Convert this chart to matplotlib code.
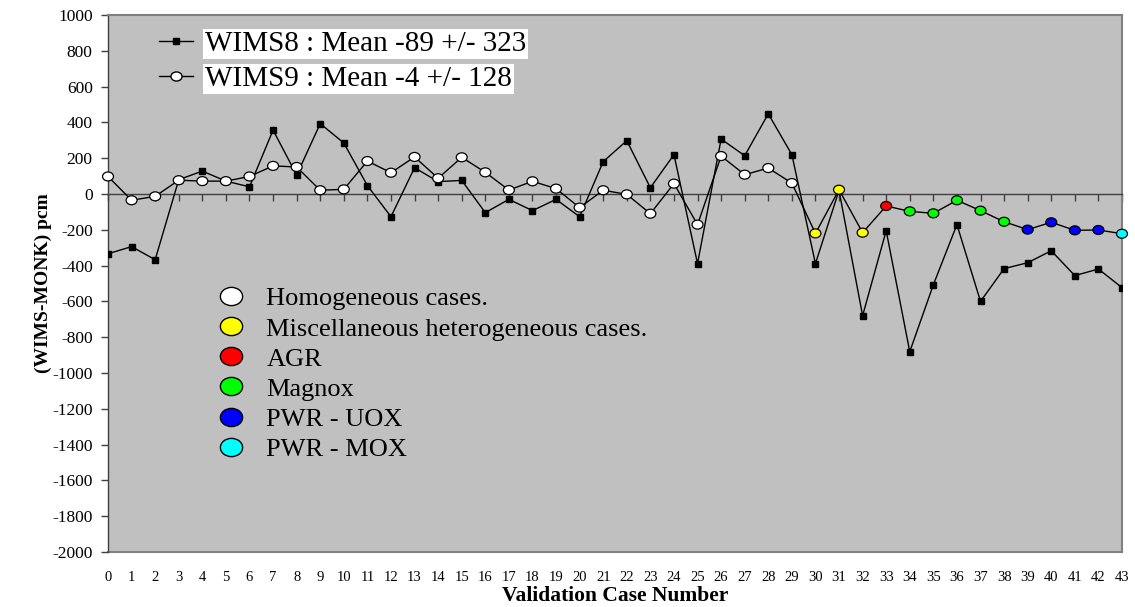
import matplotlib
matplotlib.use("Agg")
import matplotlib.pyplot as plt
from matplotlib.lines import Line2D
from matplotlib.path import Path
import matplotlib.transforms as mtransforms

plt.rcParams['font.family'] = ['Liberation Serif', 'DejaVu Serif']

cases = list(range(44))
wims8 = [-334, -294, -367, 80, 128, 72, 40, 357, 106, 393, 285, 47, -127, 147, 69, 76,
         -104, -30, -93, -30, -127, 181, 298, 35, 220, -389, 307, 214, 448, 220,
         -389, 20, -680, -205, -881, -507, -171, -600, -417, -384, -317, -456, -419, -523]
wims9 = [98, -35, -13, 77, 72, 72, 98, 157, 151, 21, 26, 184, 119, 207, 88, 205,
         121, 22, 71, 30, -76, 21, -2, -110, 58, -171, 212, 108, 145, 61,
         -220, 24, -216, -67, -97, -108, -35, -93, -155, -199, -158, -203, -201, -222]
# category index of each case (0 homogeneous ... 5 PWR-MOX)
wims9_category = [0]*30 + [1, 1, 1, 2, 3, 3, 3, 3, 3, 4, 4, 4, 4, 5]
category_labels = ["Homogeneous cases.", "Miscellaneous heterogeneous cases.", "AGR",
                   "Magnox", "PWR - UOX", "PWR - MOX"]
category_colors = ["#FFFFFF", "#FFFF00", "#FF0000", "#00FF00", "#0000FF", "#00FFFF"]
legend_labels = ["WIMS8 : Mean -89 +/- 323", "WIMS9 : Mean -4 +/- 128"]
yticks = list(range(-2000, 1001, 200))

ell = Path.unit_circle().transformed(mtransforms.Affine2D().scale(1.22, 1.0))

W, H = 1135, 607
fig = plt.figure(figsize=(W/100, H/100), dpi=100)
L, R, T, B = 108, 1122, 15, 552
ax = fig.add_axes([L/W, 1-B/H, (R-L)/W, (B-T)/H])
ax.set_facecolor('#C0C0C0')
ax.set_xlim(0, 43)
ax.set_ylim(-2000, 1000)

ax.plot(cases, wims8, color='black', lw=1.0, marker='s', markersize=4.3,
        markerfacecolor='black', markeredgecolor='black', zorder=3)
ax.plot(cases, wims9, color='black', lw=1.0, zorder=3)
ax.scatter(cases, wims9, marker=ell, s=62,
           c=[category_colors[k] for k in wims9_category],
           edgecolors='black', linewidths=0.9, zorder=4, clip_on=False)

# axes styling
ax.spines['bottom'].set_position(('data', 0))
ax.spines['bottom'].set_color('#404040')
ax.spines['bottom'].set_linewidth(1.0)
ax.spines['left'].set_color('#404040')
ax.spines['left'].set_linewidth(1.0)
for s in ('top', 'right'):
    ax.spines[s].set_color('#808080')
    ax.spines[s].set_linewidth(1.5)
ax.set_xticks(cases)
ax.tick_params(axis='x', direction='out', length=5, width=1, color='#404040',
               labelbottom=False)
ax.set_yticks(yticks)
ax.set_yticklabels([str(v) for v in yticks], fontsize=12.5)
ax.tick_params(axis='y', direction='out', length=5, width=1, color='#404040', pad=6)

sec = ax.secondary_xaxis('bottom')
sec.set_xticks(cases)
sec.set_xticklabels([str(c) for c in cases], fontsize=10.5)
sec.tick_params(length=0, pad=14)
sec.spines['bottom'].set_color('#808080')
sec.spines['bottom'].set_linewidth(1.5)
sec.set_xlabel('Validation Case Number', fontsize=15.5, fontweight='bold', labelpad=1)

ax.set_ylabel('(WIMS-MONK) pcm', fontsize=14, fontweight='bold', labelpad=0)

# series legend
h1 = Line2D([], [], color='black', lw=1.0, marker='s', markersize=4.3)
h2 = Line2D([], [], color='black', lw=1.0, marker=ell, markersize=8,
            markerfacecolor='white', markeredgecolor='black')
leg1 = ax.legend([h1, h2], legend_labels, loc='upper left',
                 bbox_to_anchor=((159-L)/(R-L), (B-31)/(B-T)),
                 frameon=False, fontsize=21, handlelength=1.17, handletextpad=0.4,
                 borderaxespad=0, borderpad=0, labelspacing=0.29)
for t in leg1.get_texts():
    t.set_bbox(dict(facecolor='white', edgecolor='none', pad=1.5))
ax.add_artist(leg1)

# category legend
ch = [Line2D([], [], linestyle='none', marker=ell, markersize=16,
             markerfacecolor=c, markeredgecolor='black', markeredgewidth=1.0)
      for c in category_colors]
leg2 = ax.legend(ch, category_labels, loc='upper left',
                 bbox_to_anchor=((211-L)/(R-L), (B-287)/(B-T)),
                 frameon=False, fontsize=19, handlelength=1.5, handletextpad=0.6,
                 borderaxespad=0, borderpad=0, labelspacing=0.25)

fig.savefig('out.png', dpi=100)
